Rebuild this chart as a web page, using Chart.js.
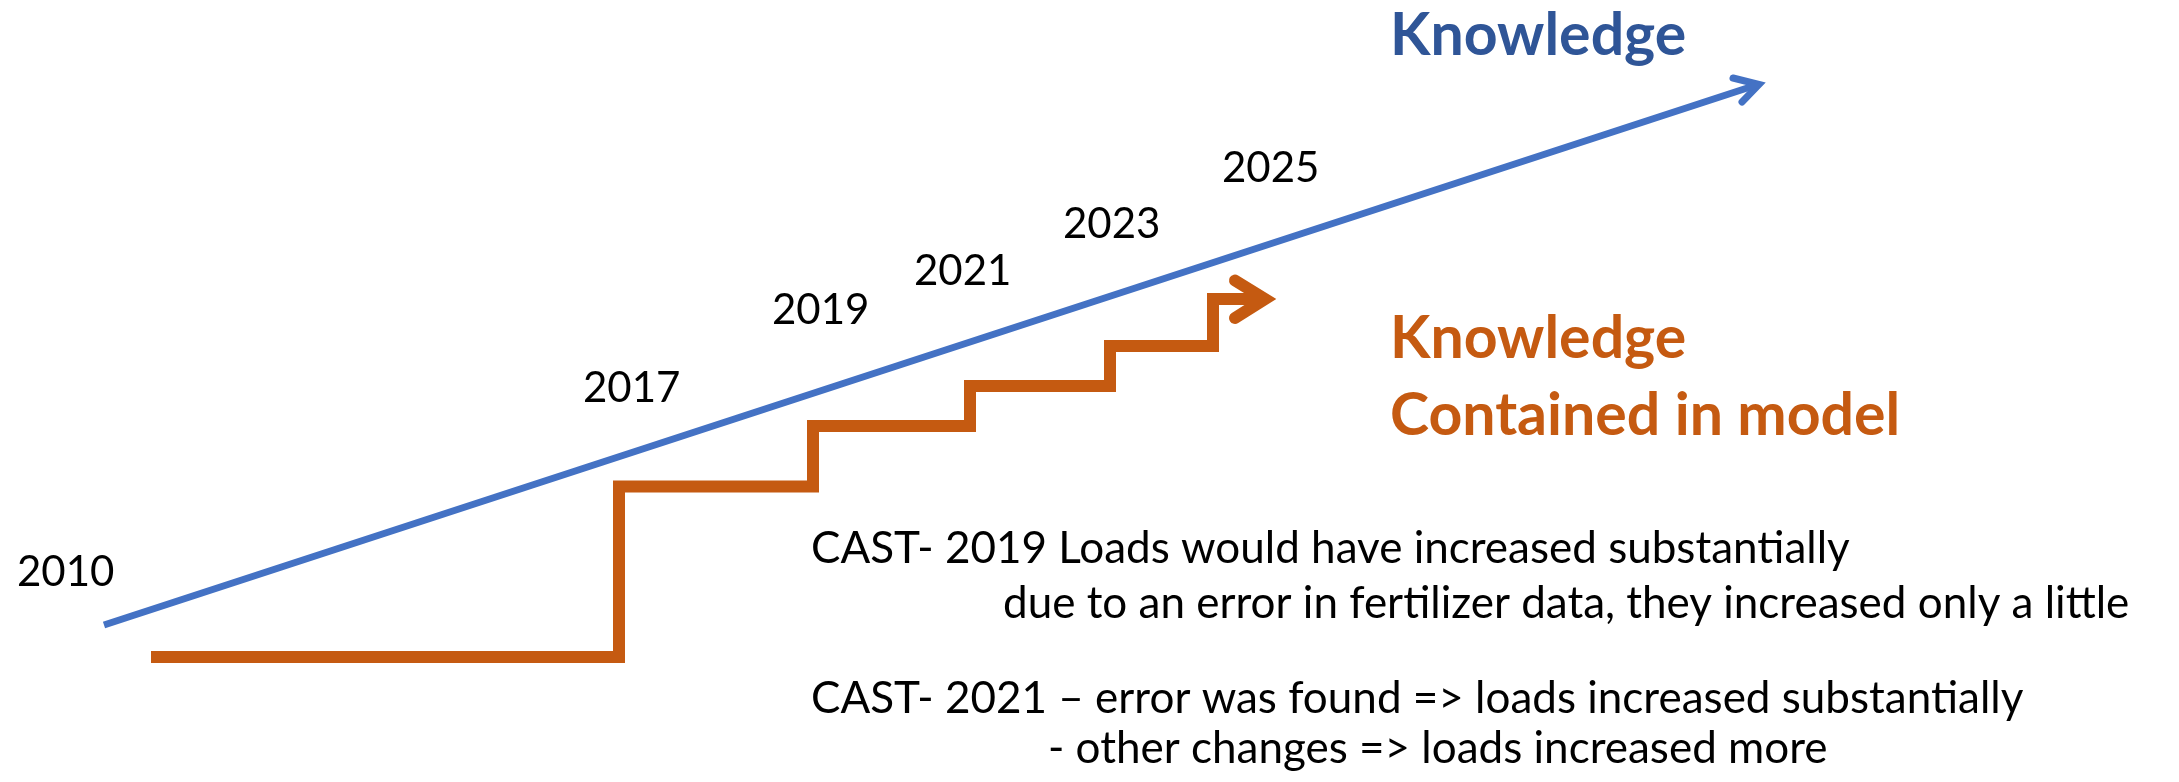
<!DOCTYPE html>
<html>
<head>
<meta charset="utf-8">
<script src="https://cdn.jsdelivr.net/npm/chart.js@4.4.1/dist/chart.umd.min.js"></script>
<style>
  html, body { margin: 0; padding: 0; background: #fff; }
  #wrap { width: 2179px; height: 782px; }
</style>
</head>
<body>
<div id="wrap"><canvas id="c" width="2179" height="782"></canvas></div>
<script>
// diagram units: x grows to the right, y grows upward (0..2179 x 0..782)
const knowledgeX = [104, 1758];
const knowledgeY = [157, 697.5];
const knowledgeHeadX = [1733, 1759, 1742];
const knowledgeHeadY = [704, 697.5, 680];

// model knowledge: stepped, each point = where a new level starts
const modelX = [151, 619, 813, 970, 1110, 1213, 1262];
const modelY = [125, 295.5, 356, 396, 436, 483, 483];
const modelHeadX = [1235, 1265, 1235];
const modelHeadY = [501.5, 483, 464];

const yearLabels = ["2010", "2017", "2019", "2021", "2023", "2025"];
const yearX = [17, 583, 772, 914, 1063, 1222];
const yearY = [196, 380, 458, 497, 544, 600];

const noteLines = [
  "CAST- 2019 Loads would have increased substantially",
  "due to an error in fertilizer data, they increased only a little",
  "CAST- 2021 \u2013 error was found => loads increased substantially",
  "- other changes => loads increased more",
];
const noteX = [811, 1003, 811, 1048];
const noteY = [219, 164, 69, 19];

const titleLines = ["Knowledge", "Knowledge", "Contained in model"];
const titleX = [1390, 1390, 1390];
const titleY = [727, 424, 347];

const BLUE = "#4472C4";
const BLUE_TEXT = "#2F5597";
const ORANGE = "#C55A11";

function pts(xs, ys) {
  return xs.map((x, i) => ({ x: x, y: ys[i] }));
}

const textPlugin = {
  id: "diagramText",
  afterDatasetsDraw(chart) {
    const { ctx, scales: { x, y } } = chart;
    ctx.save();
    ctx.textBaseline = "alphabetic";
    ctx.textAlign = "left";

    ctx.fillStyle = "#000";
    ctx.font = "42px Lato";
    yearLabels.forEach((t, i) => {
      ctx.fillText(t, x.getPixelForValue(yearX[i]), y.getPixelForValue(yearY[i]));
    });
    ctx.font = "44px Lato";
    noteLines.forEach((t, i) => {
      ctx.fillText(t, x.getPixelForValue(noteX[i]), y.getPixelForValue(noteY[i]));
    });

    ctx.font = "bold 59px Lato";
    titleLines.forEach((t, i) => {
      ctx.fillStyle = i === 0 ? BLUE_TEXT : ORANGE;
      ctx.fillText(t, x.getPixelForValue(titleX[i]), y.getPixelForValue(titleY[i]));
    });
    ctx.restore();
  },
};

function draw() {
  new Chart(document.getElementById("c"), {
    type: "line",
    data: {
      datasets: [
        {
          data: pts(knowledgeX, knowledgeY),
          borderColor: BLUE, borderWidth: 7, borderCapStyle: "butt",
          pointRadius: 0, clip: false,
        },
        {
          data: pts(knowledgeHeadX, knowledgeHeadY),
          borderColor: BLUE, borderWidth: 7, borderCapStyle: "round", borderJoinStyle: "miter",
          pointRadius: 0, clip: false,
        },
        {
          data: pts(modelX, modelY),
          stepped: "before",
          borderColor: ORANGE, borderWidth: 12, borderCapStyle: "butt", borderJoinStyle: "miter",
          pointRadius: 0, clip: false,
        },
        {
          data: pts(modelHeadX, modelHeadY),
          borderColor: ORANGE, borderWidth: 12, borderCapStyle: "round", borderJoinStyle: "miter",
          pointRadius: 0, clip: false,
        },
      ],
    },
    options: {
      responsive: false,
      devicePixelRatio: 1,
      animation: false,
      layout: { padding: 0 },
      scales: {
        x: { type: "linear", min: 0, max: 2179, display: false },
        y: { type: "linear", min: 0, max: 782, display: false },
      },
      plugins: { legend: { display: false }, tooltip: { enabled: false } },
    },
    plugins: [textPlugin],
  });
}

Promise.all([
  document.fonts.load("42px Lato"),
  document.fonts.load("44px Lato"),
  document.fonts.load("bold 59px Lato"),
]).then(draw, draw);
</script>
</body>
</html>
